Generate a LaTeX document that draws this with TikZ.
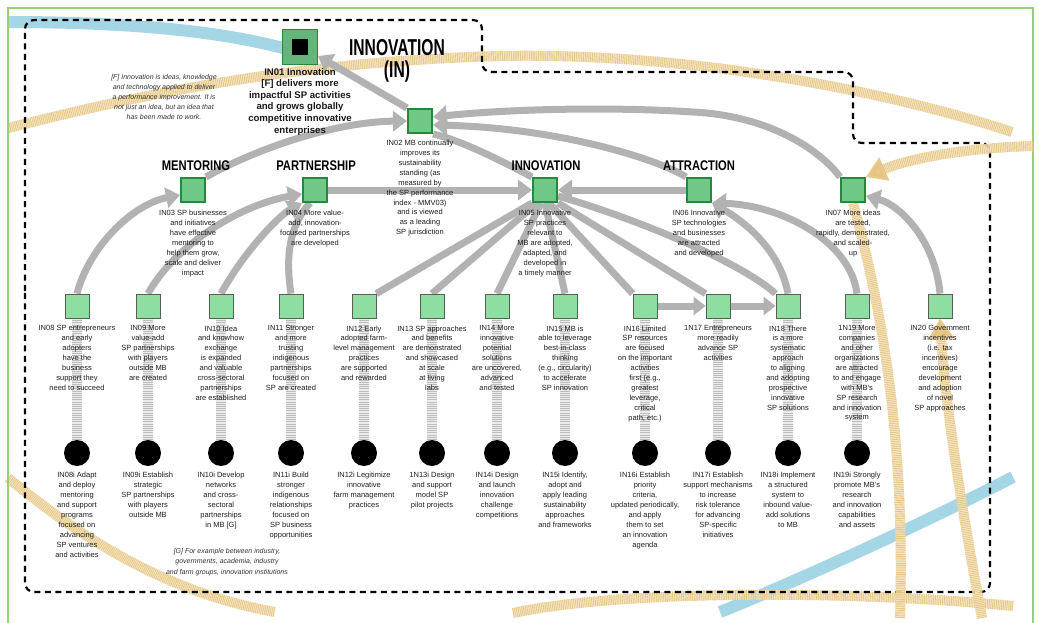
\documentclass[tikz,border=0pt]{standalone}
\usepackage{fontspec}
\setmainfont{Liberation Sans}
\usepackage{graphicx}
\usetikzlibrary{arrows.meta}
\pgfdeclarelayer{back}
\pgfdeclarelayer{mid}
\pgfsetlayers{back,mid,main}
\definecolor{gframe}{RGB}{150,210,115}
\definecolor{topfill}{RGB}{112,200,135}
\definecolor{topdraw}{RGB}{40,135,60}
\definecolor{botfill}{RGB}{142,222,162}
\definecolor{botdraw}{RGB}{85,95,85}
\definecolor{conngray}{RGB}{178,178,178}
\definecolor{tanbase}{RGB}{246,230,195}
\definecolor{tanline}{RGB}{228,196,128}
\definecolor{bandblue}{RGB}{165,214,230}
\tikzset{
 topbox/.style={draw=topdraw,fill=topfill,line width=2pt,minimum size=24pt,inner sep=0pt},
 botbox/.style={draw=botdraw,fill=botfill,line width=0.8pt,minimum size=24pt,inner sep=0pt},
 actdot/.style={circle,fill=black,minimum size=26pt,inner sep=0pt},
 lbl/.style={anchor=north,align=center,inner sep=0pt,text=black!88,font=\fontsize{7.5}{9.9}\selectfont},
 sect/.style={inner sep=0pt,font=\fontsize{14}{15}\selectfont\bfseries},
 notetxt/.style={align=center,inner sep=0pt,text=black!80,font=\fontsize{7}{10.2}\selectfont\itshape},
 conn/.style={draw=conngray,line width=7pt},
 ahead/.style={-{Triangle[length=14pt,width=20pt]}},
 hatchband/.style={draw=black!8,line width=10pt,postaction={draw=black!26,line width=10pt,dash pattern=on 0.9pt off 1.3pt}},
 tanband/.style={draw=tanbase,line width=10pt,opacity=0.85,postaction={draw=tanline,line width=10pt,dash pattern=on 0.9pt off 0.9pt}},
 tanhead/.style={-{Triangle[length=20pt,width=24pt]}},
 blueband/.style={draw=bandblue,line width=12pt},
}
\begin{document}
\begin{tikzpicture}[x=1pt,y=-1pt]
\useasboundingbox (0,0) rectangle (1039,623);
\begin{pgfonlayer}{back}
\fill[white] (0,0) rectangle (1039,623);
\draw[blueband] (8,22) .. controls (120,22) and (220,30) .. (290,50);
\draw[blueband] (720,612) .. controls (800,580) and (930,520) .. (1013,477);
\draw[tanband] (8,128) .. controls (120,100) and (280,62) .. (500,56) .. controls (700,52) and (900,95) .. (1012,132);
\draw[tanband] (8,478) .. controls (60,520) and (150,590) .. (275,612);
\draw[tanband] (513,613) .. controls (620,590) and (850,590) .. (1013,606);
\draw[gframe,line width=2.5pt] (8,623) -- (8,8) -- (1033,8) -- (1033,623);
\draw[black,line width=2.2pt,dash pattern=on 6pt off 4.5pt,rounded corners=9pt]
  (25,300) -- (25,20) -- (482,20) -- (482,72) -- (853,72) -- (853,143) -- (990,143) -- (990,592) -- (25,592) -- cycle;
\end{pgfonlayer}

% titles
\node[inner sep=0pt,align=center,font=\fontsize{23}{22}\selectfont\bfseries] (ttl) at (397,61) {\scalebox{0.68}[1]{INNOVATION}\\\scalebox{0.68}[1]{(IN)}};
\node[sect] (s1) at (196,166) {\scalebox{0.8}[1]{MENTORING}};
\node[sect] (s2) at (316,166) {\scalebox{0.8}[1]{PARTNERSHIP}};
\node[sect] (s3) at (546,166) {\scalebox{0.8}[1]{INNOVATION}};
\node[sect] (s4) at (699,166) {\scalebox{0.8}[1]{ATTRACTION}};

% IN01
\node[draw=topdraw,fill=topfill!90!black,line width=1pt,minimum size=35pt,inner sep=0pt] (b01) at (300,47) {};
\node[fill=black,minimum size=16pt,inner sep=0pt] (b01i) at (b01.center) {};
\node[anchor=north,align=center,inner sep=0pt,text=black!90,font=\fontsize{9.6}{11.6}\selectfont\bfseries] (t01) at ([yshift=-3pt]b01.south) {IN01 Innovation\\{}[F] delivers more\\impactful SP activities\\and grows globally\\competitive innovative\\enterprises};
\node[notetxt] (nf) at (164,97) {{}[F] Innovation is ideas, knowledge\\and technology applied to deliver\\a performance improvement. It is\\not just an idea, but an idea that\\has been made to work.};

% top boxes
\node[topbox] (b02) at (420,121) {};
\node[topbox] (b03) at (193,190) {};
\node[topbox] (b04) at (315,190) {};
\node[topbox] (b05) at (545,190) {};
\node[topbox] (b06) at (699,190) {};
\node[topbox] (b07) at (853,190) {};
\node[lbl] (t02) at ([yshift=-6pt]b02.south) {IN02 MB continually\\improves its\\sustainability\\standing (as\\measured by\\the SP performance\\index - MMV03)\\and is viewed\\as a leading\\SP jurisdiction};
\node[lbl] (t03) at ([yshift=-7pt]b03.south) {IN03 SP businesses\\and initiatives\\have effective\\mentoring to\\help them grow,\\scale and deliver\\impact};
\node[lbl] (t04) at ([yshift=-7pt]b04.south) {IN04 More value-\\add, innovation-\\focused partnerships\\are developed};
\node[lbl] (t05) at ([yshift=-7pt]b05.south) {IN05 Innovative\\SP practices\\relevant to\\MB are adopted,\\adapted, and\\developed in\\a timely manner};
\node[lbl] (t06) at ([yshift=-7pt]b06.south) {IN06 Innovative\\SP technologies\\and businesses\\are attracted\\and developed};
\node[lbl] (t07) at ([yshift=-7pt]b07.south) {IN07 More ideas\\are tested,\\rapidly, demonstrated,\\and scaled-\\up};

% bottom boxes
\node[botbox] (b08) at (77,306) {};
\node[botbox] (b09) at (148,306) {};
\node[botbox] (b10) at (221,306) {};
\node[botbox] (b11) at (291,306) {};
\node[botbox] (b12) at (364,306) {};
\node[botbox] (b13) at (432,306) {};
\node[botbox] (b14) at (497,306) {};
\node[botbox] (b15) at (565,306) {};
\node[botbox] (b16) at (645,306) {};
\node[botbox] (b17) at (718,306) {};
\node[botbox] (b18) at (788,306) {};
\node[botbox] (b19) at (857,306) {};
\node[botbox] (b20) at (940,306) {};
\node[lbl] (t08) at ([yshift=-7pt]b08.south) {IN08 SP entrepreneurs\\and early\\adopters\\have the\\business\\support they\\need to succeed};
\node[lbl] (t09) at ([yshift=-7pt]b09.south) {IN09 More\\value-add\\SP partnerships\\with players\\outside MB\\are created};
\node[lbl] (t10) at ([yshift=-7pt]b10.south) {IN10 Idea\\and knowhow\\exchange\\is expanded\\and valuable\\cross-sectoral\\partnerships\\are established};
\node[lbl] (t11) at ([yshift=-7pt]b11.south) {IN11 Stronger\\and more\\trusting\\indigenous\\partnerships\\focused on\\SP are created};
\node[lbl] (t12) at ([yshift=-7pt]b12.south) {IN12 Early\\adopted farm-\\level management\\practices\\are supported\\and rewarded};
\node[lbl] (t13) at ([yshift=-7pt]b13.south) {IN13 SP approaches\\and benefits\\are demonstrated\\and showcased\\at scale\\at living\\labs};
\node[lbl] (t14) at ([yshift=-7pt]b14.south) {IN14 More\\innovative\\potential\\solutions\\are uncovered,\\advanced\\and tested};
\node[lbl] (t15) at ([yshift=-7pt]b15.south) {IN15 MB is\\able to leverage\\best-in-class\\thinking\\(e.g., circularity)\\to accelerate\\SP innovation};
\node[lbl] (t16) at ([yshift=-7pt]b16.south) {IN16 Limited\\SP resources\\are focused\\on the important\\activities\\first (e.g.,\\greatest\\leverage,\\critical\\path, etc.)};
\node[lbl] (t17) at ([yshift=-7pt]b17.south) {1N17 Entrepreneurs\\more readily\\advance SP\\activities};
\node[lbl] (t18) at ([yshift=-7pt]b18.south) {IN18 There\\is a more\\systematic\\approach\\to aligning\\and adopting\\prospective\\innovative\\SP solutions};
\node[lbl] (t19) at ([yshift=-7pt]b19.south) {1N19 More\\companies\\and other\\organizations\\are attracted\\to and engage\\with MB's\\SP research\\and innovation\\system};
\node[lbl] (t20) at ([yshift=-7pt]b20.south) {IN20 Government\\incentives\\(i.e. tax\\incentives)\\encourage\\development\\and adoption\\of novel\\SP approaches};

% activity dots
\node[actdot] (c08) at (77,453) {};
\node[actdot] (c09) at (148,453) {};
\node[actdot] (c10) at (221,453) {};
\node[actdot] (c11) at (291,453) {};
\node[actdot] (c12) at (364,453) {};
\node[actdot] (c13) at (432,453) {};
\node[actdot] (c14) at (497,453) {};
\node[actdot] (c15) at (565,453) {};
\node[actdot] (c16) at (645,453) {};
\node[actdot] (c17) at (718,453) {};
\node[actdot] (c18) at (788,453) {};
\node[actdot] (c19) at (857,453) {};
\node[lbl] (u08) at ([yshift=-6pt]c08.south) {IN08i Adapt\\and deploy\\mentoring\\and support\\programs\\focused on\\advancing\\SP ventures\\and activities};
\node[lbl] (u09) at ([yshift=-6pt]c09.south) {IN09i Establish\\strategic\\SP partnerships\\with players\\outside MB};
\node[lbl] (u10) at ([yshift=-6pt]c10.south) {IN10i Develop\\networks\\and cross-\\sectoral\\partnerships\\in MB [G]};
\node[lbl] (u11) at ([yshift=-6pt]c11.south) {IN11i Build\\stronger\\indigenous\\relationships\\focused on\\SP business\\opportunities};
\node[lbl] (u12) at ([yshift=-6pt]c12.south) {IN12i Legitimize\\innovative\\farm management\\practices};
\node[lbl] (u13) at ([yshift=-6pt]c13.south) {1N13i Design\\and support\\model SP\\pilot projects};
\node[lbl] (u14) at ([yshift=-6pt]c14.south) {IN14i Design\\and launch\\innovation\\challenge\\competitions};
\node[lbl] (u15) at ([yshift=-6pt]c15.south) {IN15i Identify,\\adopt and\\apply leading\\sustainability\\approaches\\and frameworks};
\node[lbl] (u16) at ([yshift=-6pt]c16.south) {IN16i Establish\\priority\\criteria,\\updated periodically,\\and apply\\them to set\\an innovation\\agenda};
\node[lbl] (u17) at ([yshift=-6pt]c17.south) {IN17i Establish\\support mechanisms\\to increase\\risk tolerance\\for advancing\\SP-specific\\initiatives};
\node[lbl] (u18) at ([yshift=-6pt]c18.south) {IN18i Implement\\a structured\\system to\\inbound value-\\add solutions\\to MB};
\node[lbl] (u19) at ([yshift=-6pt]c19.south) {IN19i Strongly\\promote MB's\\research\\and innovation\\capabilities\\and assets};
\node[notetxt] (ng) at (227,562) {{}[G] For example between industry,\\governments, academia, industry\\and farm groups, innovation institutions};

% free ends of the background arrows
\coordinate (tr) at (1033,146);
\coordinate (tb7) at (900,618);
\coordinate (tb20) at (982,618);

\begin{pgfonlayer}{mid}
\foreach \i in {08,09,10,11,12,13,14,15,16,17,18,19}{\draw[hatchband] (c\i.north) -- (b\i.south);}
% upper level
\draw[conn,ahead] (b02.north west) -- ([yshift=-9pt]b01.east);
\draw[conn,ahead] (b03.north east) .. controls (250,152) and (330,122) .. (b02.west);
\draw[conn] (b05.north west) .. controls (500,160) and (460,140) .. (b02.south east);
\draw[conn,ahead] (b06.north west) .. controls (660,160) and (560,128) .. ([yshift=-4pt]b02.east);
\draw[conn,ahead] (b07.north west) .. controls (820,150) and (770,116) .. (693,112) .. controls (600,106) and (500,110) .. ([yshift=4pt]b02.east);
\draw[conn,ahead] (b04.east) -- (b05.west);
\draw[conn,ahead] (b06.west) -- (b05.east);
% lower level
\draw[conn,ahead] (b08.north) .. controls (88,250) and (130,205) .. ([yshift=-5pt]b03.west);
\draw[conn,ahead] (b09.north) .. controls (175,245) and (240,205) .. ([yshift=-4pt]b04.west);
\draw[conn,ahead] (b10.north) .. controls (245,250) and (280,215) .. (b04.south west);
\draw[conn] (b11.north) .. controls (285,255) and (290,225) .. ([xshift=-5pt]b04.south);
\draw[conn] (b12.north east) -- (b05.south west);
\draw[conn] (b13.north) -- ([xshift=-8pt]b05.south);
\draw[conn] (b14.north) -- ([xshift=-4pt]b05.south);
\draw[conn] (b15.north) -- (b05.south);
\draw[conn] (b16.north west) -- ([xshift=4pt]b05.south);
\draw[conn] (b17.north west) -- (b05.south east);
\draw[conn] (b18.north west) .. controls (740,262) and (640,220) .. ([yshift=-6pt]b05.east);
\draw[conn,ahead] (b18.north) .. controls (780,250) and (745,222) .. (b06.south east);
\draw[conn,ahead] (b19.north) .. controls (850,240) and (780,205) .. (b06.south east);
\draw[conn,ahead] (b20.north) .. controls (935,240) and (900,205) .. ([yshift=-6pt]b07.east);
\draw[conn,-{Triangle[length=12pt,width=18pt]}] (b16.east) -- (b17.west);
\draw[conn,-{Triangle[length=12pt,width=18pt]}] (b17.east) -- (b18.west);
% tan arrows
\draw[tanband] (tb7) .. controls (905,450) and (885,320) .. (b07.south);
\draw[tanband,tanhead] (tr) .. controls (960,148) and (905,160) .. (b07.north east);
\draw[tanband,tanhead] (tb20) .. controls (960,500) and (945,400) .. (b20.south);
\end{pgfonlayer}
\end{tikzpicture}
\end{document}
